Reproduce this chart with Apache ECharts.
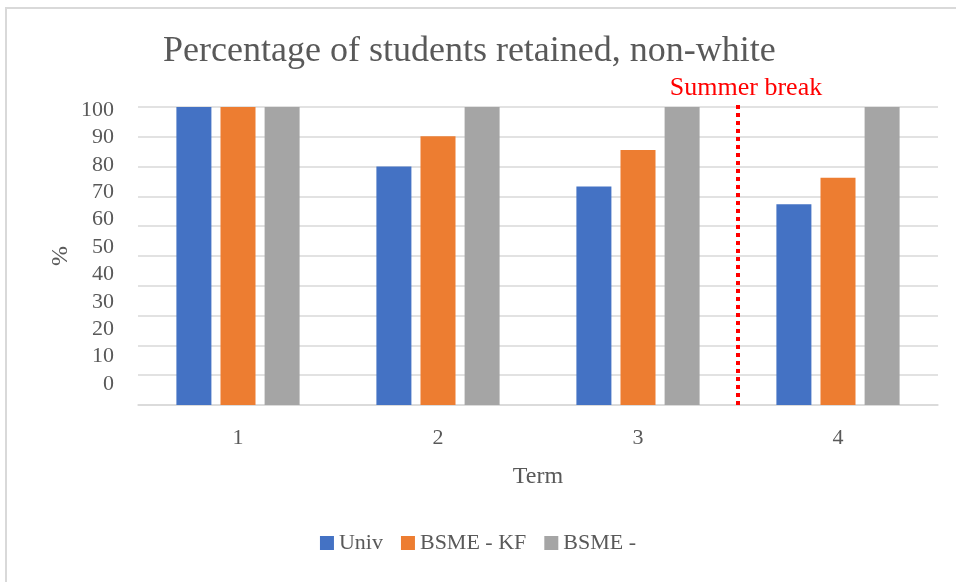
<!DOCTYPE html>
<html>
<head>
<meta charset="utf-8">
<style>
  html, body { margin: 0; padding: 0; background: #ffffff; }
  #chart { width: 956px; height: 582px; }
</style>
<script src="https://cdn.jsdelivr.net/npm/echarts@6/dist/echarts.min.js"></script>
</head>
<body>
<div id="chart"></div>
<script>
// Retention by term, non-white students
const terms = ['1', '2', '3', '4'];
const univ = [100, 80, 73.3, 67.4];
const bsmeKF = [100, 90.2, 85.6, 76.3];
const bsme = [100, 100, 100, 100];
const seriesNames = ['Univ', 'BSME - KF', 'BSME -'];
const yTicks = [0, 10, 20, 30, 40, 50, 60, 70, 80, 90, 100];
const summerBreakAt = 3.5;          // between term 3 and term 4
const summerBreakSpan = [0, 101.3]; // vertical extent of the divider

const serif = '"Liberation Serif", "DejaVu Serif", serif';
const textGray = '#595959';
const gridGray = '#d9d9d9';

const chart = echarts.init(document.getElementById('chart'), null, { renderer: 'canvas' });

chart.setOption({
  animation: false,
  backgroundColor: '#ffffff',
  color: ['#4472C4', '#ED7D31', '#A5A5A5'],
  title: {
    text: 'Percentage of students retained, non-white',
    left: 158,
    top: 29,
    textStyle: { fontFamily: serif, fontSize: 36, fontWeight: 'normal', color: textGray }
  },
  graphic: [{
    type: 'rect',
    silent: true,
    shape: { x: 6, y: 8, width: 960, height: 590 },
    style: { fill: 'none', stroke: gridGray, lineWidth: 2 }
  }],
  legend: {
    data: seriesNames,
    bottom: 23,
    left: 'center',
    itemWidth: 14,
    itemHeight: 14,
    itemGap: 18,
    icon: 'rect',
    textStyle: { fontFamily: serif, fontSize: 22, color: textGray }
  },
  grid: [
    { left: 138, right: 18, top: 107, bottom: 177 },
    { left: 138, right: 18, top: 110, bottom: 198 }
  ],
  xAxis: [
    {
      type: 'category',
      gridIndex: 0,
      data: terms,
      name: 'Term',
      nameLocation: 'middle',
      nameGap: 60,
      nameTextStyle: { fontFamily: serif, fontSize: 24, color: textGray },
      axisLine: { lineStyle: { color: gridGray, width: 1.5 } },
      axisTick: { show: false },
      axisLabel: { fontFamily: serif, fontSize: 22, color: textGray, margin: 22 }
    },
    {
      type: 'value',
      gridIndex: 0,
      min: 0.5,
      max: 4.5,
      show: false
    },
    {
      type: 'category',
      gridIndex: 1,
      data: terms,
      show: false
    }
  ],
  yAxis: [
    {
      type: 'value',
      gridIndex: 0,
      min: 0,
      max: 100,
      interval: 10,
      name: '%',
      nameLocation: 'middle',
      nameGap: 65,
      nameRotate: 90,
      nameTextStyle: { fontFamily: serif, fontSize: 24, color: textGray },
      axisLine: { show: false },
      axisTick: { show: false },
      axisLabel: { show: false },
      splitLine: { lineStyle: { color: gridGray, width: 1.5 } }
    },
    {
      // tick labels for the percentage scale
      type: 'value',
      gridIndex: 1,
      min: yTicks[0],
      max: yTicks[yTicks.length - 1],
      interval: 10,
      axisLine: { show: false },
      axisTick: { show: false },
      splitLine: { show: false },
      axisLabel: { fontFamily: serif, fontSize: 22, color: textGray, margin: 24 }
    }
  ],
  series: [
    {
      name: seriesNames[0], type: 'bar', data: univ,
      xAxisIndex: 0, yAxisIndex: 0, barWidth: 35, barGap: '26%'
    },
    {
      name: seriesNames[1], type: 'bar', data: bsmeKF,
      xAxisIndex: 0, yAxisIndex: 0, barWidth: 35, barGap: '26%'
    },
    {
      name: seriesNames[2], type: 'bar', data: bsme,
      xAxisIndex: 0, yAxisIndex: 0, barWidth: 35, barGap: '26%'
    },
    {
      // summer break divider
      type: 'line',
      xAxisIndex: 1,
      yAxisIndex: 0,
      silent: true,
      clip: false,
      symbol: 'circle',
      symbolSize: 0,
      showSymbol: true,
      itemStyle: { color: '#ff0000' },
      lineStyle: { color: '#ff0000', type: [4, 4], width: 4 },
      label: { show: false },
      data: [
        { value: [summerBreakAt, summerBreakSpan[0]] },
        {
          value: [summerBreakAt, summerBreakSpan[1]],
          label: {
            show: true,
            position: 'top',
            formatter: 'Summer break',
            fontFamily: serif,
            fontSize: 26,
            color: '#ff0000',
            offset: [8, 0],
            distance: 2
          }
        }
      ]
    }
  ]
});
</script>
</body>
</html>
